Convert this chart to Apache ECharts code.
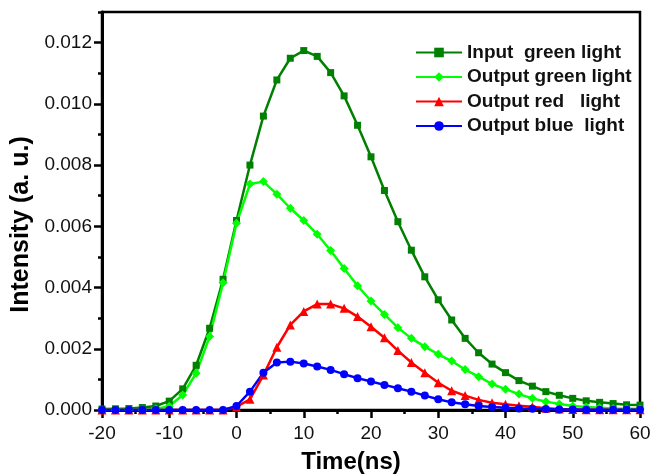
<!DOCTYPE html>
<html>
<head>
<meta charset="utf-8">
<script src="https://cdn.jsdelivr.net/npm/echarts@6/dist/echarts.min.js"></script>
<style>html,body{margin:0;padding:0;background:#fff}#c{width:652px;height:476px}</style>
</head>
<body>
<div id="c"></div>
<script>
const time = [-20,-18,-16,-14,-12,-10,-8,-6,-4,-2,0,2,4,6,8,10,12,14,16,18,20,22,24,26,28,30,32,34,36,38,40,42,44,46,48,50,52,54,56,58,60];
const inputGreen = [0.00003,0.00004,0.00005,0.00008,0.00013,0.00029,0.00069,0.00146,0.00267,0.00427,0.00619,0.0080,0.0096,0.01078,0.01149,0.01174,0.01155,0.01102,0.01026,0.0093,0.00827,0.00717,0.00615,0.00522,0.00435,0.0036,0.00294,0.00234,0.00187,0.0015,0.00122,0.00096,0.00078,0.0006,0.00048,0.00038,0.0003,0.00025,0.00021,0.00017,0.00016];
const outputGreen = [0,0,0,0,0.00003,0.00012,0.00049,0.0012,0.0024,0.00416,0.0061,0.00738,0.00746,0.00705,0.00659,0.00619,0.00574,0.00521,0.00462,0.00406,0.00356,0.00312,0.00269,0.00234,0.00207,0.00182,0.0016,0.00132,0.00109,0.00085,0.00068,0.00052,0.00038,0.00027,0.0002,0.00013,0.0001,0.00007,0.00005,0.00004,0.00003];
const outputRed = [0,0,0,0,0,0,0,0,0,0,0.0001,0.00035,0.00114,0.00205,0.00278,0.00322,0.00346,0.00346,0.00332,0.00305,0.00272,0.00236,0.00194,0.00155,0.00122,0.00089,0.00063,0.00047,0.00033,0.00024,0.00019,0.00014,0.00011,0.00006,0.00003,0.00002,0.00001,0.00001,0.00001,0.00001,0.00001];
const outputBlue = [0,0,0,0,0,0,0,0,0,0,0.00013,0.0006,0.00122,0.00155,0.00158,0.00152,0.00142,0.00131,0.00117,0.00104,0.00093,0.00082,0.00071,0.0006,0.00047,0.00035,0.00025,0.00019,0.00013,0.0001,0.00007,0.00005,0.00004,0.00003,0.00002,0.00002,0.00001,0.00001,0.00001,0.00001,0.00001];
const seriesNames = ['Input  green light','Output green light','Output red   light','Output blue  light'];
const xTicks = {min: -20, max: 60, interval: 10};
const yTicks = {min: 0, max: 0.013, interval: 0.002, minor: 0.001};

const FONT = "'Liberation Sans', Arial, sans-serif";
const pair = arr => time.map((t, i) => [t, arr[i]]);
const mk = (name, arr, color, symbol, size) => ({
  name, type: 'line', data: pair(arr), xAxisIndex: 0, yAxisIndex: 0,
  symbol, symbolSize: size, showSymbol: true,
  lineStyle: {color, width: 2.5}, itemStyle: {color},
  emphasis: {disabled: true}, animation: false
});

const chart = echarts.init(document.getElementById('c'), null, {renderer: 'canvas'});
chart.setOption({
  animation: false,
  backgroundColor: '#fff',
  grid: {left: 102, right: 12, top: 12, bottom: 66, show: true, borderColor: '#000', borderWidth: 2.5,
    backgroundColor: 'transparent', containLabel: false, outerBoundsMode: 'none'},
  legend: {
    left: 410, top: 38, orient: 'vertical', itemWidth: 46, itemHeight: 12, itemGap: 5.5,
    data: seriesNames,
    textStyle: {fontFamily: FONT, fontSize: 19, fontWeight: 'bold', color: '#111', lineHeight: 19}
  },
  xAxis: [{
    type: 'value', min: xTicks.min, max: xTicks.max, interval: xTicks.interval,
    name: 'Time(ns)', nameLocation: 'middle', nameGap: 40,
    nameTextStyle: {fontFamily: FONT, fontSize: 24, fontWeight: 'bold', color: '#000', padding: [0, 40, 0, 0]},
    axisLine: {show: true, onZero: false, lineStyle: {color: '#000', width: 3}},
    axisTick: {show: true, inside: false, length: 8, lineStyle: {color: '#000', width: 2.5}},
    minorTick: {show: true, splitNumber: 2, length: 4, lineStyle: {color: '#000', width: 2.5}},
    axisLabel: {fontFamily: FONT, fontSize: 19, color: '#111', margin: 14},
    splitLine: {show: false}, minorSplitLine: {show: false}
  }],
  yAxis: [{
    type: 'value', min: yTicks.min, max: yTicks.max, interval: yTicks.interval,
    name: 'Intensity (a. u.)', nameLocation: 'middle', nameRotate: 90, nameGap: 68,
    nameTextStyle: {fontFamily: FONT, fontSize: 25, fontWeight: 'bold', color: '#000', padding: [0, 27, 0, 0]},
    axisLine: {show: true, onZero: false, lineStyle: {color: '#000', width: 3}},
    axisTick: {show: true, inside: false, length: 8, lineStyle: {color: '#000', width: 2.5}},
    axisLabel: {fontFamily: FONT, fontSize: 19, color: '#111', margin: 10, showMaxLabel: false,
      formatter: v => v.toFixed(3)},
    splitLine: {show: false}
  }, {
    type: 'value', position: 'left', min: yTicks.min, max: yTicks.max, interval: yTicks.minor,
    axisLine: {show: false, onZero: false},
    axisTick: {show: true, inside: false, length: 4, lineStyle: {color: '#000', width: 2.5}},
    axisLabel: {show: false}, splitLine: {show: false}
  }],
  series: [
    mk(seriesNames[0], inputGreen, '#008000', 'rect', 7),
    mk(seriesNames[1], outputGreen, '#00ff00', 'diamond', 9),
    mk(seriesNames[2], outputRed, '#ff0000', 'triangle', 9),
    mk(seriesNames[3], outputBlue, '#0000ff', 'circle', 8)
  ]
});
</script>
</body>
</html>
